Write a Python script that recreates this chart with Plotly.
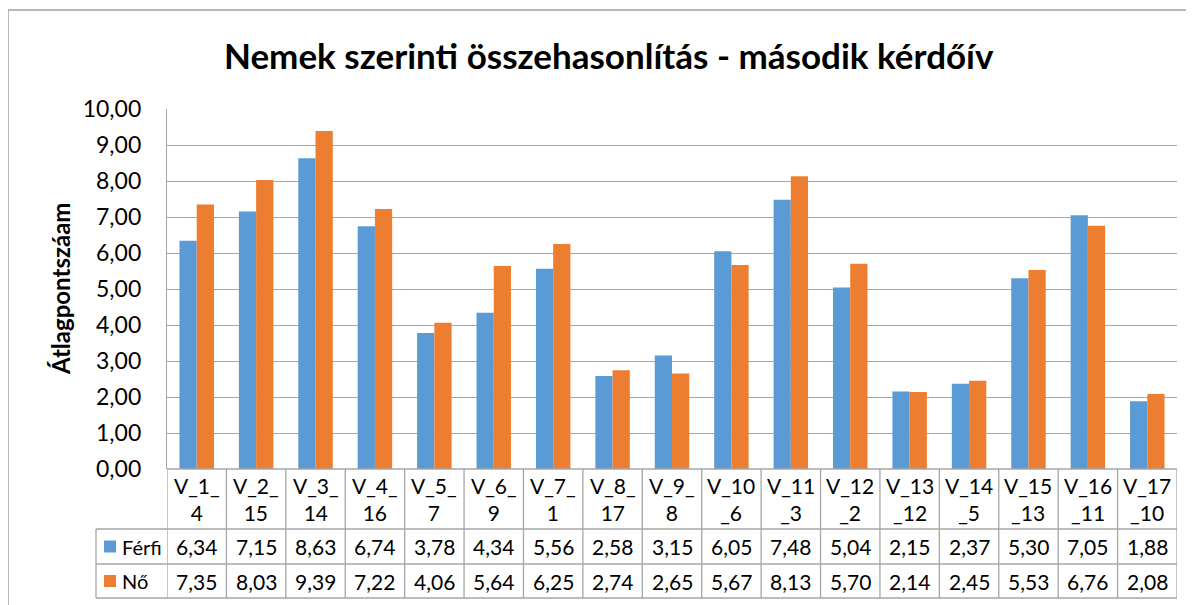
import plotly.graph_objects as go

categories = ["V_1_4", "V_2_15", "V_3_14", "V_4_16", "V_5_7", "V_6_9", "V_7_1", "V_8_17",
              "V_9_8", "V_10_6", "V_11_3", "V_12_2", "V_13_12", "V_14_5", "V_15_13", "V_16_11", "V_17_10"]
cat_labels = ["V_1_<br>4", "V_2_<br>15", "V_3_<br>14", "V_4_<br>16", "V_5_<br>7", "V_6_<br>9", "V_7_<br>1",
              "V_8_<br>17", "V_9_<br>8", "V_10<br>_6", "V_11<br>_3", "V_12<br>_2", "V_13<br>_12",
              "V_14<br>_5", "V_15<br>_13", "V_16<br>_11", "V_17<br>_10"]
ferfi = [6.34, 7.15, 8.63, 6.74, 3.78, 4.34, 5.56, 2.58, 3.15, 6.05, 7.48, 5.04, 2.15, 2.37, 5.30, 7.05, 1.88]
no = [7.35, 8.03, 9.39, 7.22, 4.06, 5.64, 6.25, 2.74, 2.65, 5.67, 8.13, 5.70, 2.14, 2.45, 5.53, 6.76, 2.08]
series_names = ["Férfi", "Nő"]
series_colors = ["#5B9BD5", "#ED7D31"]
title = "Nemek szerinti összehasonlítás - második kérdőív"
y_title = "Átlagpontszáam"

FONT = "Lato"
OFF = 8  # page body margin
W, H = 1194, 605
PL, PR, PT, PB = 167, 1177, 109, 469
L, T = PL - OFF, PT - OFF
pw, ph = PR - PL, PB - PT
R = W - L - pw
B = H - T - ph
n = len(categories)
x = list(range(n))

def py(ypix):
    return (PB - ypix) / ph

def px(xpix):
    return (xpix - PL) / pw

fig = go.Figure()
for name, vals, col in zip(series_names, [ferfi, no], series_colors):
    fig.add_trace(go.Bar(x=x, y=vals, name=name, marker=dict(color=col, line=dict(width=0)),
                         showlegend=False))

grid = "#A6A6A6"
shapes = []
annotations = []
row_lab_bot, row_f_bot, row_n_bot = 529, 564, 598
for i in range(n + 1):
    shapes.append(dict(type="line", xref="x", yref="paper", x0=i - 0.5, x1=i - 0.5,
                       y0=0, y1=py(row_n_bot), line=dict(color=grid, width=1.3)))
for yp, xs in [(PB, px(PL)), (row_lab_bot, px(96)), (row_f_bot, px(96)), (row_n_bot, px(96))]:
    shapes.append(dict(type="line", xref="paper", yref="paper", x0=xs, x1=1, y0=py(yp), y1=py(yp),
                       line=dict(color=grid, width=1.3)))
shapes.append(dict(type="line", xref="paper", yref="paper", x0=px(96), x1=px(96),
                   y0=py(row_lab_bot), y1=py(row_n_bot), line=dict(color=grid, width=1.3)))
shapes.append(dict(type="line", xref="paper", yref="paper", x0=px(8), x1=px(W + 20),
                   y0=py(10), y1=py(10), line=dict(color="#A0A0A0", width=1.5)))
shapes.append(dict(type="line", xref="paper", yref="paper", x0=px(8), x1=px(8),
                   y0=py(10), y1=py(H + 20), line=dict(color="#A0A0A0", width=1.5)))

tf = dict(family=FONT, size=21, color="#000000")
for i, lab in enumerate(cat_labels):
    annotations.append(dict(x=i, y=py((PB + row_lab_bot) / 2), xref="x", yref="paper", text=lab,
                            showarrow=False, font=tf, xanchor="center", yanchor="middle"))
for vals, yc in [(ferfi, (row_lab_bot + row_f_bot) / 2), (no, (row_f_bot + row_n_bot) / 2)]:
    for i, v in enumerate(vals):
        annotations.append(dict(x=i, y=py(yc), xref="x", yref="paper",
                                text=f"{v:.2f}".replace(".", ","), showarrow=False, font=tf,
                                xanchor="center", yanchor="middle"))
for name, col, (ya, yb) in zip(series_names, series_colors,
                               [(row_lab_bot, row_f_bot), (row_f_bot, row_n_bot)]):
    yc = (ya + yb) / 2
    shapes.append(dict(type="rect", xref="paper", yref="paper", x0=px(104), x1=px(116),
                       y0=py(yc + 6), y1=py(yc - 6), fillcolor=col, line=dict(width=0)))
    annotations.append(dict(x=px(120), y=py(yc), xref="paper", yref="paper", text=name,
                            showarrow=False, font=dict(family=FONT, size=20, color="#000"),
                            xanchor="left", yanchor="middle"))

annotations.append(dict(x=px(60), y=py(289), xref="paper", yref="paper", text=f"<b>{y_title}</b>",
                        textangle=-90, showarrow=False, font=dict(family=FONT, size=24, color="#000"),
                        xanchor="center", yanchor="middle"))
annotations.append(dict(x=px(609), y=py(55), xref="paper", yref="paper",
                        text=f"<b>{title}</b>", showarrow=False,
                        font=dict(family=FONT, size=35, color="#000"), xanchor="center", yanchor="middle"))

fig.update_layout(
    width=W, height=H,
    margin=dict(l=L, r=R, t=T, b=B),
    paper_bgcolor="white", plot_bgcolor="white",
    barmode="group", bargap=0.42, bargroupgap=0.0,
    separators=", ",
    font=dict(family=FONT, color="#000"),
    xaxis=dict(range=[-0.5, n - 0.5], showticklabels=False, showgrid=False, zeroline=False,
               showline=False, ticks=""),
    yaxis=dict(range=[0, 10], dtick=1, tickformat=".2f", showgrid=True, gridcolor=grid, gridwidth=1.3,
               zeroline=False, showline=True, linecolor=grid, linewidth=1.3,
               tickfont=dict(family=FONT, size=23, color="#000"), ticks="outside", ticklen=20,
               tickcolor="rgba(0,0,0,0)"),
    shapes=shapes, annotations=annotations,
)
fig.write_html("out.html")
